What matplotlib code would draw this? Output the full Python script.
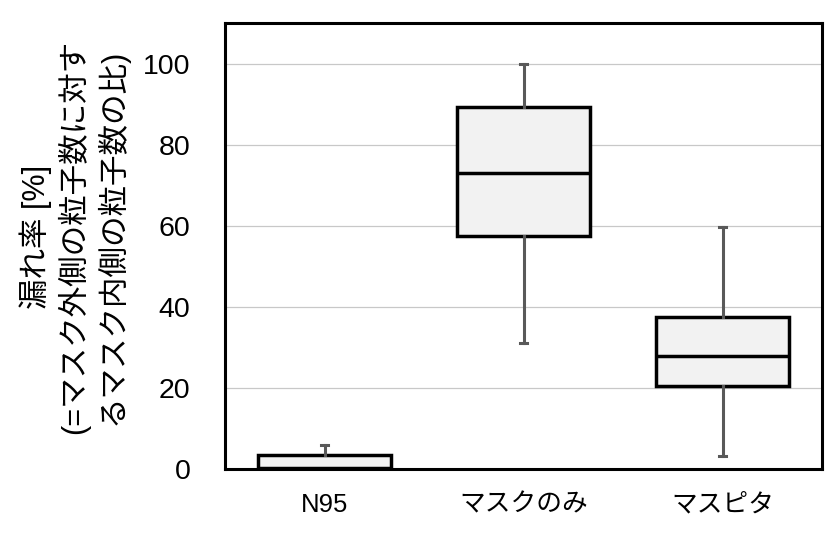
import matplotlib
matplotlib.use("Agg")
import matplotlib.pyplot as plt

plt.rcParams['font.family'] = ['Liberation Sans', 'Noto Sans CJK JP', 'DejaVu Sans']

# values (leak rate, %)
groups = ["N95", "マスクのみ", "マスピタ"]
whislo = [0.0, 31.0, 3.2]
q1 = [0.0, 57.5, 20.4]
med = [0.3, 72.9, 27.9]
q3 = [3.5, 89.3, 37.6]
whishi = [5.9, 100.0, 59.6]

stats = []
for i, g in enumerate(groups):
    stats.append({"label": g, "whislo": whislo[i], "q1": q1[i], "med": med[i],
                  "q3": q3[i], "whishi": whishi[i], "fliers": []})

fig = plt.figure(figsize=(8.4, 5.36), dpi=100)
ax = fig.add_axes([225 / 840, (536 - 469) / 536, (822 - 225) / 840, (469 - 23) / 536])

ax.bxp(stats, positions=[1, 2, 3], widths=0.67, patch_artist=True, showcaps=True,
       boxprops=dict(facecolor="#f2f2f2", edgecolor="black", linewidth=2.5),
       medianprops=dict(color="black", linewidth=2.5),
       whiskerprops=dict(color="#595959", linewidth=2.2),
       capprops=dict(color="#595959", linewidth=2.2),
       capwidths=0.035, zorder=3)

ax.set_xlim(0.5, 3.5)
ax.set_ylim(0, 110)
ax.set_yticks([0, 20, 40, 60, 80, 100])
ax.yaxis.grid(True, color="#c8c8c8", linewidth=0.9)
ax.set_axisbelow(True)
for s in ax.spines.values():
    s.set_linewidth(2.2)
    s.set_color("black")
ax.tick_params(length=0, labelsize=20.5, pad=25)
ax.tick_params(axis="x", labelsize=18.5, pad=17)

ax.set_ylabel("漏れ率 [%]\n(=マスク外側の粒子数に対す\nるマスク内側の粒子数の比)",
              fontsize=22, linespacing=1.2)
ax.yaxis.set_label_coords(-0.162, 0.52)

fig.savefig("out.png", dpi=100)
